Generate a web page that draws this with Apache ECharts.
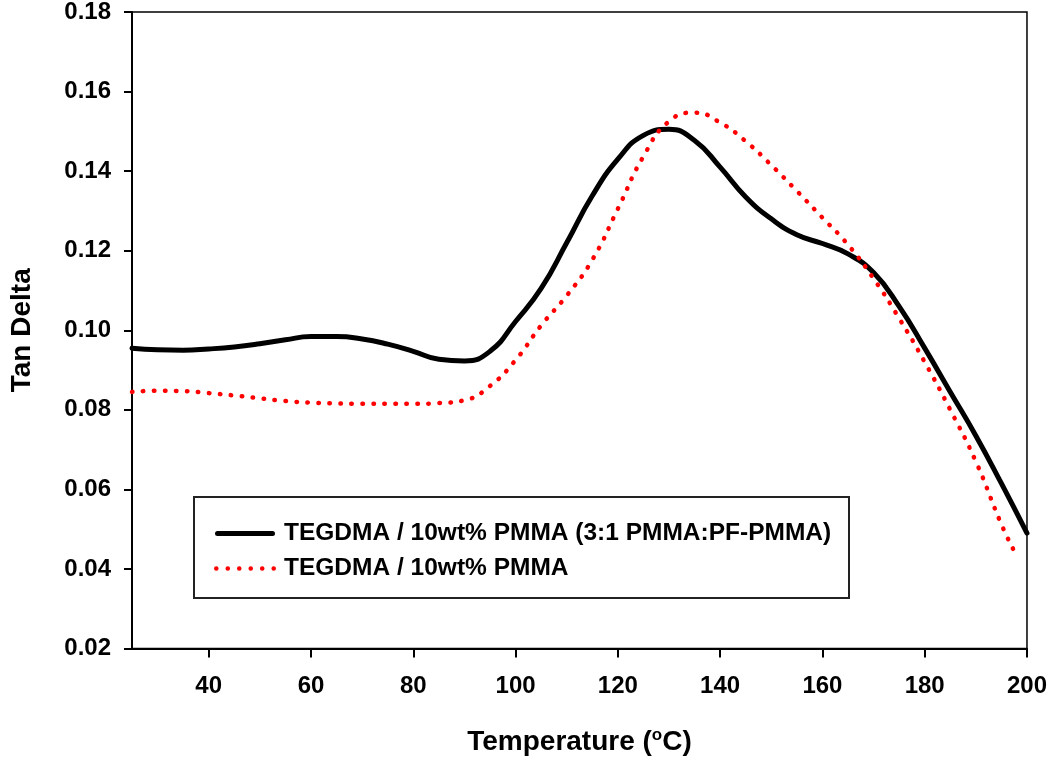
<!DOCTYPE html>
<html>
<head>
<meta charset="utf-8">
<script src="https://cdn.jsdelivr.net/npm/echarts@6/dist/echarts.min.js"></script>
<style>
html,body{margin:0;padding:0;background:#fff;}
#chart{width:1050px;height:761px;}
</style>
</head>
<body>
<div id="chart"></div>
<script>
// Data
var seriesNames = ['TEGDMA / 10wt% PMMA (3:1 PMMA:PF-PMMA)', 'TEGDMA / 10wt% PMMA'];
var blackX = [25, 30, 35, 40, 45, 50, 55, 60, 65, 70, 75, 80, 85, 90, 95, 100, 105, 110, 115, 120, 125, 130, 135, 140, 145, 150, 155, 160, 165, 170, 175, 180, 185, 190, 195, 200];
var blackY = [0.0955, 0.0951, 0.0950, 0.0953, 0.0958, 0.0966, 0.0976, 0.0984, 0.0984, 0.0978, 0.0965, 0.0947, 0.0927, 0.0923, 0.0947, 0.1022, 0.1105, 0.1220, 0.1338, 0.1430, 0.1490, 0.1505, 0.1477, 0.1410, 0.1335, 0.1280, 0.1240, 0.1218, 0.1192, 0.1145, 0.1060, 0.0955, 0.0845, 0.0735, 0.0615, 0.0490];
var redX = [25, 30, 35, 40, 45, 50, 55, 60, 65, 70, 75, 80, 85, 90, 95, 100, 105, 110, 115, 120, 125, 130, 135, 140, 145, 150, 155, 160, 165, 170, 175, 180, 185, 190, 195, 197.5];
var redY = [0.0845, 0.0848, 0.0847, 0.0842, 0.0836, 0.0829, 0.0822, 0.0818, 0.0816, 0.0815, 0.0815, 0.0815, 0.0817, 0.0824, 0.0860, 0.0925, 0.1012, 0.1087, 0.1177, 0.1305, 0.1437, 0.1525, 0.1547, 0.1522, 0.1475, 0.1415, 0.1350, 0.1283, 0.1215, 0.1130, 0.1030, 0.0920, 0.0800, 0.0670, 0.0512, 0.0445];
var xTicks = [40, 60, 80, 100, 120, 140, 160, 180, 200];

function zip(xs, ys){ return xs.map(function(x,i){ return [x, ys[i]]; }); }

var FONT = 'Liberation Sans, Arial, sans-serif';
var solidIcon = 'path://M2.5,0 L57.5,0 A2.5,2.5 0 0,1 57.5,5 L2.5,5 A2.5,2.5 0 0,1 2.5,0 Z';
var dotIcon = 'path://';
for (var i = 0; i < 6; i++) {
  var cx = 2.5 + i * 11;
  dotIcon += 'M' + (cx - 2.2) + ',2.5 A2.2,2.2 0 1,0 ' + (cx + 2.2) + ',2.5 A2.2,2.2 0 1,0 ' + (cx - 2.2) + ',2.5 Z ';
}

var chart = echarts.init(document.getElementById('chart'), null, {renderer:'canvas'});
chart.setOption({
  animation: false,
  backgroundColor: '#fff',
  grid: {left: 123, right: 20, top: 9, bottom: 112, show: true, borderColor: '#000', borderWidth: 1.5, containLabel: false},
  xAxis: {
    type: 'value', min: 25, max: 200,
    name: 'Temperature ({sup|o}C)', nameLocation: 'middle', nameGap: 78,
    nameTextStyle: {fontFamily: FONT, fontSize: 28, fontWeight: 'bold', color: '#000',
      rich: {sup: {fontFamily: FONT, fontSize: 17, fontWeight: 'bold', color: '#000', verticalAlign: 'top', padding: [0,0,14,0]}}},
    axisLine: {show: true, onZero: false, lineStyle: {color: '#000', width: 2}},
    axisTick: {show: true, length: 9, inside: false, lineStyle: {color: '#000', width: 2}, customValues: xTicks},
    axisLabel: {fontFamily: FONT, fontSize: 24, fontWeight: 'bold', color: '#000', margin: 26, customValues: xTicks},
    splitLine: {show: false}
  },
  yAxis: {
    type: 'value', min: 0.02, max: 0.18, interval: 0.02,
    name: 'Tan Delta', nameLocation: 'middle', nameGap: 96, nameRotate: 90,
    nameTextStyle: {fontFamily: FONT, fontSize: 28, fontWeight: 'bold', color: '#000'},
    axisLine: {show: true, onZero: false, lineStyle: {color: '#000', width: 2}},
    axisTick: {show: true, length: 8, lineStyle: {color: '#000', width: 2}},
    axisLabel: {fontFamily: FONT, fontSize: 24, fontWeight: 'bold', color: '#000', margin: 21,
      formatter: function(v){ return v.toFixed(2); }},
    splitLine: {show: false}
  },
  legend: {
    orient: 'vertical', left: 209, top: 516, z: 20,
    itemWidth: 62, itemHeight: 5, itemGap: 10,
    textStyle: {fontFamily: FONT, fontSize: 24.5, fontWeight: 'bold', color: '#000', padding: [0,0,0,3]},
    data: [
      {name: seriesNames[0], icon: solidIcon, itemStyle: {color: '#000'}},
      {name: seriesNames[1], icon: dotIcon, itemStyle: {color: '#ff0000'}}
    ]
  },
  graphic: [{
    type: 'rect', z: 1, shape: {x: 194, y: 497, width: 655, height: 101},
    style: {fill: '#fff', stroke: '#222', lineWidth: 2}
  }],
  series: [{
    name: seriesNames[0], type: 'line', data: zip(blackX, blackY), smooth: 0.5, symbol: 'none', z: 3,
    lineStyle: {color: '#000', width: 5, cap: 'round'}, itemStyle: {color: '#000'}
  }, {
    name: seriesNames[1], type: 'line', data: zip(redX, redY), smooth: 0.5, symbol: 'none', z: 4,
    lineStyle: {color: '#ff0000', width: 4.5, type: [0.5, 10.5], cap: 'round'}, itemStyle: {color: '#ff0000'}
  }]
});
</script>
</body>
</html>
